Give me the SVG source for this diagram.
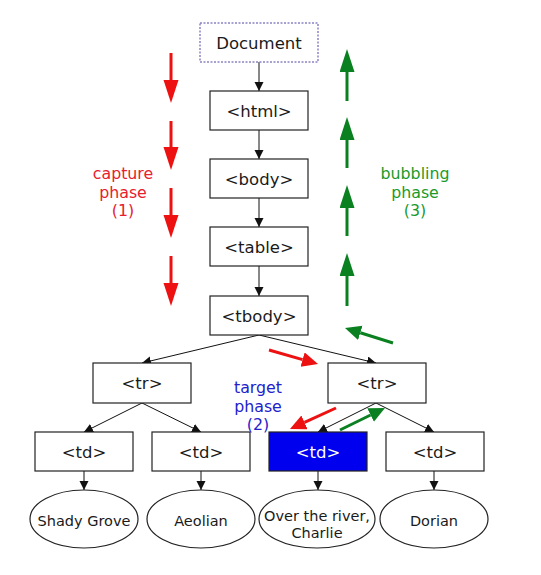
<svg xmlns="http://www.w3.org/2000/svg" width="541" height="575" viewBox="0 0 541 575">
<style>
.box{fill:#fff;stroke:#222;stroke-width:1.2}
.doc{fill:#fff;stroke:#8a84c4;stroke-width:1.5;stroke-dasharray:2 1.5}
.sel{fill:#0000ee;stroke:#222;stroke-width:1.2}
.ell{fill:#fff;stroke:#222;stroke-width:1.2}
.t{font-family:"DejaVu Sans",Verdana,sans-serif;font-size:16.5px;fill:#1a1a1a;text-anchor:middle}
.te{font-family:"DejaVu Sans",Verdana,sans-serif;font-size:14.5px;fill:#1a1a1a;text-anchor:middle}
.lab{font-family:"DejaVu Sans",Verdana,sans-serif;font-size:15.8px;text-anchor:middle}
.edge{stroke:#111;stroke-width:1;fill:none;marker-end:url(#ah)}
.red{stroke:#ee1111;stroke-width:3;fill:none;marker-end:url(#hr)}
.grn{stroke:#0a8020;stroke-width:3;fill:none;marker-end:url(#hg)}
.redd{stroke:#ee1111;stroke-width:3;fill:none;marker-end:url(#hrd)}
.grnd{stroke:#0a8020;stroke-width:3;fill:none;marker-end:url(#hgd)}
</style>
<defs>
<marker id="ah" markerUnits="userSpaceOnUse" markerWidth="10" markerHeight="10" refX="9" refY="4.5" orient="auto"><path d="M0,0 L9,4.5 L0,9 z" fill="#111"/></marker>
<marker id="hr" markerUnits="userSpaceOnUse" markerWidth="24" markerHeight="16" refX="0" refY="7.5" orient="auto"><path d="M0,0 L23,7.5 L0,15 z" fill="#ee1111"/></marker>
<marker id="hg" markerUnits="userSpaceOnUse" markerWidth="24" markerHeight="16" refX="0" refY="7.5" orient="auto"><path d="M0,0 L23,7.5 L0,15 z" fill="#0a8020"/></marker>
<marker id="hrd" markerUnits="userSpaceOnUse" markerWidth="17" markerHeight="16" refX="0" refY="7.5" orient="auto"><path d="M0,0 L16,7.5 L0,15 z" fill="#ee1111"/></marker>
<marker id="hgd" markerUnits="userSpaceOnUse" markerWidth="17" markerHeight="16" refX="0" refY="7.5" orient="auto"><path d="M0,0 L16,7.5 L0,15 z" fill="#0a8020"/></marker>
</defs>
<rect width="541" height="575" fill="#fff"/>
<g id="connectors">
<line class="edge" x1="259" y1="62" x2="259" y2="91"/>
<line class="edge" x1="259" y1="130" x2="259" y2="159"/>
<line class="edge" x1="259" y1="198" x2="259" y2="227"/>
<line class="edge" x1="259" y1="266" x2="259" y2="296"/>
<line class="edge" x1="259" y1="335" x2="142" y2="363"/>
<line class="edge" x1="259" y1="335" x2="376" y2="363"/>
<line class="edge" x1="142" y1="403" x2="84" y2="432"/>
<line class="edge" x1="142" y1="403" x2="201" y2="432"/>
<line class="edge" x1="376" y1="403" x2="318" y2="432"/>
<line class="edge" x1="376" y1="403" x2="434" y2="432"/>
<line class="edge" x1="84" y1="471" x2="84" y2="490"/>
<line class="edge" x1="201" y1="471" x2="201" y2="490"/>
<line class="edge" x1="318" y1="471" x2="318" y2="490"/>
<line class="edge" x1="434" y1="471" x2="434" y2="490"/>
</g>
<g id="capture-arrows">
<line class="red" x1="171" y1="53" x2="171" y2="80"/>
<line class="red" x1="171" y1="121" x2="171" y2="147"/>
<line class="red" x1="171" y1="188" x2="171" y2="215"/>
<line class="red" x1="171" y1="256" x2="171" y2="283"/>
<line class="redd" x1="269" y1="350" x2="302.6" y2="359.6"/>
<line class="redd" x1="336" y1="408" x2="304.5" y2="422.4"/>
</g>
<g id="bubbling-arrows">
<line class="grn" x1="347" y1="101" x2="347" y2="72"/>
<line class="grn" x1="347" y1="168" x2="347" y2="140"/>
<line class="grn" x1="347" y1="236" x2="347" y2="208"/>
<line class="grn" x1="347" y1="306" x2="347" y2="276"/>
<line class="grnd" x1="393" y1="343" x2="360.3" y2="332.8"/>
<line class="grnd" x1="340" y1="430" x2="370.6" y2="415"/>
</g>
<g id="document"><rect class="doc" x="200" y="23" width="118" height="39"/><text class="t" x="259" y="49">Document</text></g>
<g id="html"><rect class="box" x="210" y="91" width="98" height="39"/><text class="t" x="259" y="117">&lt;html&gt;</text></g>
<g id="body"><rect class="box" x="210" y="159" width="98" height="39"/><text class="t" x="259" y="185">&lt;body&gt;</text></g>
<g id="table"><rect class="box" x="210" y="227" width="98" height="39"/><text class="t" x="259" y="253">&lt;table&gt;</text></g>
<g id="tbody"><rect class="box" x="210" y="296" width="98" height="39"/><text class="t" x="259" y="322">&lt;tbody&gt;</text></g>
<g id="tr1"><rect class="box" x="93" y="363" width="98" height="40"/><text class="t" x="142" y="389">&lt;tr&gt;</text></g>
<g id="tr2"><rect class="box" x="328" y="363" width="98" height="40"/><text class="t" x="377" y="389">&lt;tr&gt;</text></g>
<g id="td1"><rect class="box" x="35" y="432" width="98" height="39"/><text class="t" x="84" y="458">&lt;td&gt;</text></g>
<g id="td2"><rect class="box" x="152" y="432" width="98" height="39"/><text class="t" x="201" y="458">&lt;td&gt;</text></g>
<g id="td3"><rect class="sel" x="269" y="432" width="98" height="39"/><text class="t" x="318" y="458" style="fill:#fff">&lt;td&gt;</text></g>
<g id="td4"><rect class="box" x="386" y="432" width="98" height="39"/><text class="t" x="435" y="458">&lt;td&gt;</text></g>
<g id="shady"><ellipse class="ell" cx="84" cy="519" rx="54" ry="29"/><text class="te" x="84" y="526">Shady Grove</text></g>
<g id="aeolian"><ellipse class="ell" cx="201" cy="519" rx="54" ry="29"/><text class="te" x="201" y="526">Aeolian</text></g>
<g id="river"><ellipse class="ell" cx="317" cy="519" rx="58" ry="29"/><text class="te" x="317" y="521">Over the river,</text><text class="te" x="317" y="538">Charlie</text></g>
<g id="dorian"><ellipse class="ell" cx="434" cy="519" rx="54" ry="29"/><text class="te" x="434" y="526">Dorian</text></g>
<g id="capture-label" class="lab" style="fill:#e8202e"><text x="123" y="179">capture</text><text x="123" y="197.5">phase</text><text x="123" y="216">(1)</text></g>
<g id="bubbling-label" class="lab" style="fill:#1a9a2a"><text x="415" y="179">bubbling</text><text x="415" y="197.5">phase</text><text x="415" y="216">(3)</text></g>
<g id="target-label" class="lab" style="fill:#2222cc"><text x="258" y="393">target</text><text x="258" y="411.5">phase</text><text x="258" y="430">(2)</text></g>
</svg>
